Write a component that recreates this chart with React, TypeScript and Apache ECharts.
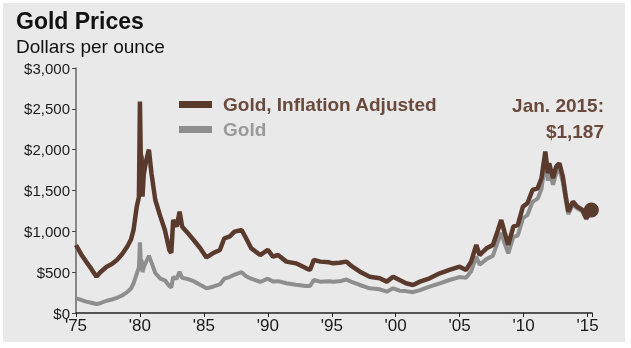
import React, { useEffect, useRef } from "react";
import * as echarts from "echarts";

const years = [
  1975.0, 1975.4, 1975.8, 1976.2, 1976.6, 1976.9, 1977.4, 1977.8, 1978.2, 1978.6,
  1979.0, 1979.3, 1979.5, 1979.75, 1979.92, 1980.0, 1980.06, 1980.13, 1980.2, 1980.3,
  1980.5, 1980.7, 1980.9, 1981.2, 1981.6, 1981.95, 1982.3, 1982.45, 1982.6, 1982.87,
  1983.1, 1983.3, 1983.65, 1984.2, 1984.7, 1985.2, 1985.7, 1986.25, 1986.6, 1987.0,
  1987.4, 1987.95, 1988.3, 1988.7, 1989.4, 1990.0, 1990.4, 1990.8, 1991.45, 1992.2,
  1993.0, 1993.3, 1993.6, 1994.1, 1994.8, 1995.1, 1995.6, 1996.15, 1996.5, 1997.2,
  1997.97, 1998.75, 1999.3, 1999.8, 2000.3, 2000.8, 2001.35, 2001.9, 2002.65, 2003.45,
  2004.2, 2005.0, 2005.5, 2005.9, 2006.3, 2006.56, 2007.1, 2007.6, 2008.0, 2008.25,
  2008.5, 2008.8, 2009.2, 2009.55, 2009.95, 2010.3, 2010.7, 2011.1, 2011.4, 2011.7,
  2011.9, 2012.0, 2012.3, 2012.55, 2012.8, 2013.07, 2013.3, 2013.5, 2013.85, 2014.2,
  2014.6, 2014.9, 2015.3,
];

const adjusted = [
  833, 720, 628, 540, 445, 500, 567, 600, 650, 720,
  812, 900, 1017, 1302, 1420, 2588, 1950, 1900, 1425, 1700,
  1874, 2000, 1711, 1384, 1180, 1017, 772, 735, 1140, 1057,
  1241, 1057, 996, 894, 796, 680, 731, 772, 915, 935,
  996, 1017, 915, 792, 710, 772, 690, 710, 629, 608,
  547, 527, 650, 629, 620, 608, 615, 629, 580, 506,
  445, 425, 384, 445, 404, 364, 343, 384, 425, 486,
  527, 567, 527, 629, 833, 710, 792, 833, 1017, 1139,
  996, 833, 1057, 1078, 1302, 1343, 1507, 1527, 1650, 1976,
  1711, 1834, 1650, 1792, 1834, 1670, 1425, 1241, 1364, 1302,
  1262, 1160, 1260,
];

const nominal = [
  180, 160, 139, 125, 110, 120, 150, 165, 185, 215,
  255, 300, 364, 480, 560, 866, 660, 640, 500, 560,
  630, 700, 620, 490, 420, 400, 330, 315, 440, 420,
  506, 430, 420, 390, 345, 302, 322, 350, 420, 440,
  470, 500, 450, 420, 380, 420, 385, 390, 364, 345,
  330, 330, 404, 384, 388, 384, 388, 410, 385, 343,
  302, 290, 261, 302, 273, 268, 255, 281, 322, 364,
  404, 440, 430, 510, 690, 590, 660, 700, 880, 980,
  860, 730, 930, 950, 1160, 1200, 1360, 1400, 1520, 1860,
  1620, 1740, 1570, 1710, 1760, 1600, 1380, 1210, 1330, 1280,
  1245, 1150, 1250,
];

const yTicks = [0, 500, 1000, 1500, 2000, 2500, 3000];
const seriesNames = ["Gold, Inflation Adjusted", "Gold"];
const BROWN = "#5b3a2e";
const GRAY = "#8e8e8e";
const FONT = "'Liberation Sans', Arial, sans-serif";

export default function App() {
  const ref = useRef<HTMLDivElement>(null);
  useEffect(() => {
    if (!ref.current) return;
    const chart = echarts.init(ref.current, null, { renderer: "svg" });
    const adjData = years.map((y, i) => [y, adjusted[i]]);
    const nomData = years.map((y, i) => [y, nominal[i]]);
    const last = adjData[adjData.length - 1];
    chart.setOption({
      animation: false,
      textStyle: { fontFamily: FONT },
      grid: { left: 76, right: 39, top: 68, bottom: 35, containLabel: false },
      graphic: [
        {
          type: "rect",
          z: -10,
          silent: true,
          shape: { x: 3, y: 3, width: 622, height: 339 },
          style: { fill: "#e9e9e9" },
        },
        {
          type: "text",
          x: 16,
          y: 9,
          style: { text: "Gold Prices", font: `bold 23px ${FONT}`, fill: "#111" },
        },
        {
          type: "text",
          x: 16,
          y: 37,
          style: { text: "Dollars per ounce", font: `19px ${FONT}`, fill: "#111" },
        },
        {
          type: "text",
          x: 604,
          y: 92,
          style: {
            text: "Jan. 2015:\n$1,187",
            font: `bold 19px ${FONT}`,
            fill: "#6a4a3d",
            align: "right",
            lineHeight: 26,
          },
        },
      ],
      legend: {
        orient: "vertical",
        left: 174,
        top: 90,
        itemWidth: 33,
        itemHeight: 7,
        itemGap: 6,
        icon: "rect",
        selectedMode: false,
        data: [
          { name: seriesNames[0], textStyle: { color: "#6a4a3d" } },
          { name: seriesNames[1], textStyle: { color: "#999999" } },
        ],
        textStyle: { fontSize: 19, fontWeight: "bold", lineHeight: 19, padding: [0, 0, 0, 6] },
      },
      xAxis: {
        type: "value",
        min: 1975,
        max: 2015.35,
        interval: 5,
        axisLine: { lineStyle: { color: "#222", width: 1.5 } },
        axisTick: { show: true, length: 4, lineStyle: { color: "#222" } },
        splitLine: { show: false },
        axisLabel: {
          fontSize: 17,
          color: "#1a1a1a",
          margin: 4,
          formatter: (v: number) =>
            Math.abs(v % 5) < 1e-6 ? "'" + String(Math.round(v)).slice(2) : "",
        },
      },
      yAxis: {
        type: "value",
        min: yTicks[0],
        max: yTicks[yTicks.length - 1],
        interval: 500,
        axisLine: { show: true, lineStyle: { color: "#666", width: 1.5 } },
        axisTick: { show: true, length: 4, lineStyle: { color: "#444" } },
        splitLine: { show: false },
        axisLabel: {
          fontSize: 15,
          color: "#1a1a1a",
          margin: 6,
          formatter: (v: number) => "$" + v.toLocaleString("en-US"),
        },
      },
      series: [
        {
          name: seriesNames[1],
          type: "line",
          data: nomData,
          showSymbol: false,
          color: GRAY,
          lineStyle: { width: 4, color: GRAY },
          z: 2,
        },
        {
          name: seriesNames[0],
          type: "line",
          data: adjData,
          showSymbol: false,
          color: BROWN,
          lineStyle: { width: 4.5, color: BROWN },
          z: 3,
        },
        {
          name: "end",
          type: "scatter",
          data: [last],
          symbol: "circle",
          symbolSize: 15,
          itemStyle: { color: BROWN, opacity: 1 },
          z: 4,
        },
      ],
    });
    return () => chart.dispose();
  }, []);
  return (
    <div
      ref={ref}
      style={{ position: "fixed", left: 0, top: 0, width: 631, height: 348 }}
    />
  );
}
